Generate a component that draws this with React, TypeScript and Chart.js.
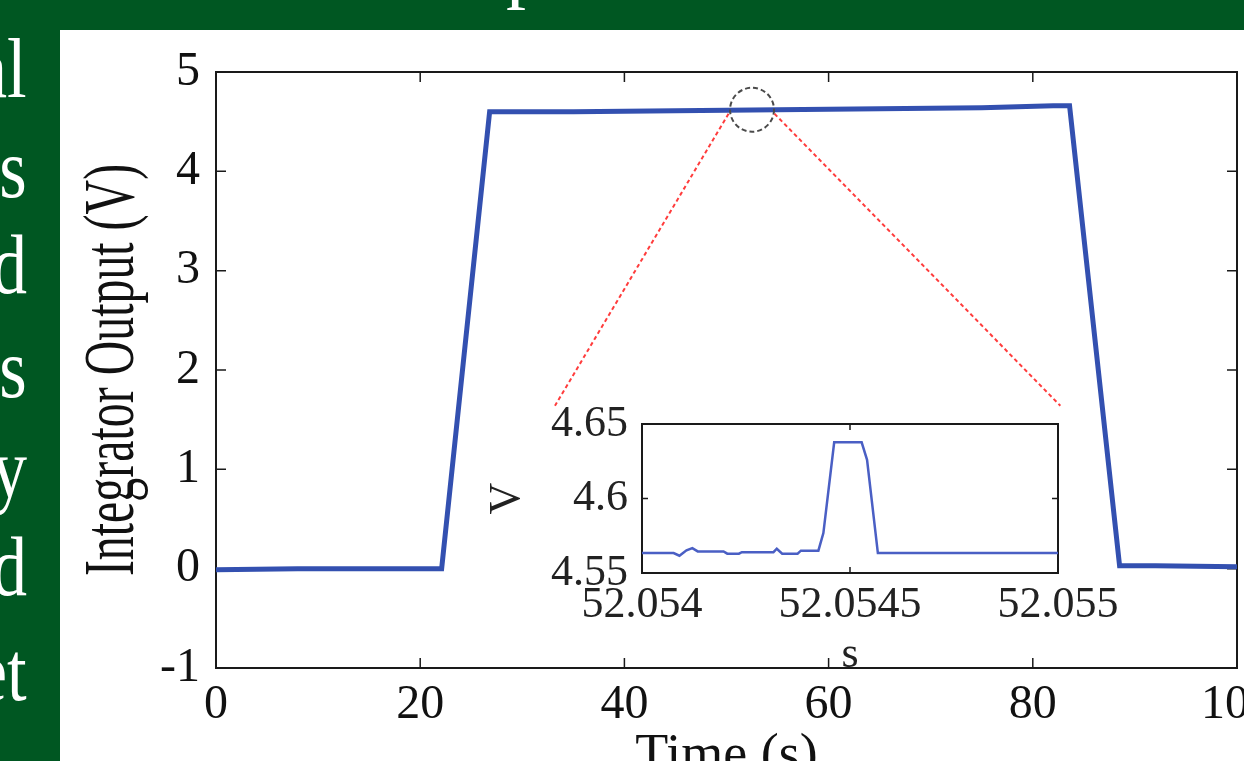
import React, { useEffect, useRef } from "react";
import { Chart, registerables } from "chart.js";

Chart.register(...registerables);

// ---------------- data ----------------
const mainTime = [0, 8, 15, 22.1, 26.8, 35, 45, 55, 65, 75, 82, 83.6, 88.5, 92, 100];
const mainVolt = [-0.01, 0.0, 0.0, 0.0, 4.6, 4.6, 4.61, 4.62, 4.63, 4.64, 4.66, 4.66, 0.03, 0.03, 0.02];
const mainXTicks = [0, 20, 40, 60, 80, 100];
const mainYTicks = [-1, 0, 1, 2, 3, 4, 5];
const mainXTitle = "Time (s)";
const mainYTitle = "Integrator Output (V)";

const insetTime = [
  52.054, 52.054076, 52.05409, 52.054107, 52.054121, 52.054134, 52.054196, 52.054205,
  52.054233, 52.05424, 52.054316, 52.054324, 52.054337, 52.054374, 52.054382, 52.054424,
  52.054436, 52.054462, 52.054528, 52.054541, 52.054567, 52.055,
];
const insetVolt = [
  4.5634, 4.5634, 4.5616, 4.5652, 4.5667, 4.5645, 4.5645, 4.563,
  4.563, 4.564, 4.564, 4.5663, 4.563, 4.563, 4.565, 4.565,
  4.5768, 4.6377, 4.6377, 4.626, 4.5634, 4.5634,
];
const insetXTicks = [52.054, 52.0545, 52.055];
const insetXLabels = ["52.054", "52.0545", "52.055"];
const insetYTicks = [4.55, 4.6, 4.65];
const insetYLabels = ["4.55", "4.6", "4.65"];
const insetXTitle = "s";
const insetYTitle = "V";

// zoom marker (data units of the main chart)
const zoomCircle = [52.5, 4.62];
const zoomLeftLine = [[50.2, 4.58], [33.2, 1.64]];
const zoomRightLine = [[54.7, 4.58], [82.7, 1.64]];

const sideWords = ["al", "s", "d", "s", "y", "d", "et"];
const sideBaselines = [97, 197, 293, 397, 497, 595, 700];

const FONT = "'Liberation Serif', 'Times New Roman', serif";
const LINE_BLUE = "#3350b0";
const INSET_BLUE = "#4a5fc4";
const GREEN = "#005722";

function framePlugin(tickLen: number, frameWidth: number) {
  return {
    id: "innerFrame",
    beforeDatasetsDraw(chart: any) {
      const { ctx, chartArea: a, scales } = chart;
      ctx.save();
      ctx.strokeStyle = "#1a1a1a";
      ctx.lineWidth = frameWidth;
      ctx.strokeRect(a.left, a.top, a.right - a.left, a.bottom - a.top);
      ctx.lineWidth = 1.5;
      ctx.beginPath();
      scales.x.ticks.forEach((t: any) => {
        const px = scales.x.getPixelForValue(t.value);
        ctx.moveTo(px, a.bottom);
        ctx.lineTo(px, a.bottom - tickLen);
        ctx.moveTo(px, a.top);
        ctx.lineTo(px, a.top + tickLen);
      });
      scales.y.ticks.forEach((t: any) => {
        const py = scales.y.getPixelForValue(t.value);
        ctx.moveTo(a.left, py);
        ctx.lineTo(a.left + tickLen, py);
        ctx.moveTo(a.right, py);
        ctx.lineTo(a.right - tickLen, py);
      });
      ctx.stroke();
      ctx.restore();
    },
  };
}

const zoomMarkPlugin = {
  id: "zoomMark",
  afterDatasetsDraw(chart: any) {
    const { ctx, scales } = chart;
    const X = (v: number) => scales.x.getPixelForValue(v);
    const Y = (v: number) => scales.y.getPixelForValue(v);
    ctx.save();
    ctx.setLineDash([5, 3]);
    ctx.strokeStyle = "#4a4a4a";
    ctx.lineWidth = 2;
    ctx.beginPath();
    ctx.arc(X(zoomCircle[0]), Y(zoomCircle[1]), 22, 0, Math.PI * 2);
    ctx.stroke();
    ctx.setLineDash([4, 3]);
    ctx.strokeStyle = "#ff3c3c";
    ctx.lineWidth = 2;
    ctx.beginPath();
    [zoomLeftLine, zoomRightLine].forEach((seg) => {
      ctx.moveTo(X(seg[0][0]), Y(seg[0][1]));
      ctx.lineTo(X(seg[1][0]), Y(seg[1][1]));
    });
    ctx.stroke();
    ctx.restore();
  },
};

const condensedYTitlePlugin = {
  id: "condensedYTitle",
  afterDraw(chart: any) {
    const { ctx, chartArea: a } = chart;
    ctx.save();
    ctx.translate(a.left - 83, (a.top + a.bottom) / 2);
    ctx.rotate(-Math.PI / 2);
    ctx.scale(0.665, 1);
    ctx.font = `72px ${FONT}`;
    ctx.fillStyle = "#111";
    ctx.textAlign = "center";
    ctx.textBaseline = "alphabetic";
    ctx.fillText(mainYTitle, 0, 0);
    ctx.restore();
  },
};

export default function App() {
  const mainRef = useRef<HTMLCanvasElement | null>(null);
  const insetRef = useRef<HTMLCanvasElement | null>(null);

  useEffect(() => {
    document.body.style.margin = "0";
    document.body.style.overflow = "hidden";
    const mainChart = new Chart(mainRef.current as HTMLCanvasElement, {
      type: "line",
      data: {
        datasets: [
          {
            data: mainTime.map((t, i) => ({ x: t, y: mainVolt[i] })),
            borderColor: LINE_BLUE,
            borderWidth: 5,
            pointRadius: 0,
            tension: 0,
            fill: false,
          },
        ],
      },
      options: {
        animation: false,
        responsive: false,
        maintainAspectRatio: false,
        events: [],
        layout: { padding: { top: 42, right: 67, bottom: 0, left: 0 } },
        plugins: { legend: { display: false }, tooltip: { enabled: false } },
        scales: {
          x: {
            type: "linear",
            min: 0,
            max: 100,
            afterBuildTicks: (s: any) => {
              s.ticks = mainXTicks.map((v) => ({ value: v }));
            },
            afterFit: (s: any) => {
              s.height = 152;
              s.paddingLeft = 0;
              s.paddingRight = 0;
            },
            grid: { display: false, drawTicks: false },
            border: { display: false },
            ticks: {
              font: { family: FONT, size: 48, lineHeight: 1 },
              color: "#111",
              padding: 13,
              maxRotation: 0,
              autoSkip: false,
            },
            title: {
              display: true,
              text: mainXTitle,
              font: { family: FONT, size: 54, lineHeight: 1 },
              color: "#111",
              padding: { top: 0, bottom: 36 },
            },
          },
          y: {
            type: "linear",
            min: -1,
            max: 5,
            afterBuildTicks: (s: any) => {
              s.ticks = mainYTicks.map((v) => ({ value: v }));
            },
            afterFit: (s: any) => {
              s.width = 156;
              s.paddingTop = 0;
              s.paddingBottom = 0;
            },
            grid: { display: false, drawTicks: false },
            border: { display: false },
            ticks: {
              font: { family: FONT, size: 48, lineHeight: 1 },
              color: "#111",
              padding: 16,
              autoSkip: false,
            },
          },
        },
      } as any,
      plugins: [framePlugin(10, 2), zoomMarkPlugin, condensedYTitlePlugin],
    });

    const insetChart = new Chart(insetRef.current as HTMLCanvasElement, {
      type: "line",
      data: {
        datasets: [
          {
            data: insetTime.map((t, i) => ({ x: t, y: insetVolt[i] })),
            borderColor: INSET_BLUE,
            borderWidth: 2.5,
            pointRadius: 0,
            tension: 0,
            fill: false,
          },
        ],
      },
      options: {
        animation: false,
        responsive: false,
        maintainAspectRatio: false,
        events: [],
        layout: { padding: { top: 29, right: 72, bottom: 0, left: 0 } },
        plugins: { legend: { display: false }, tooltip: { enabled: false } },
        scales: {
          x: {
            type: "linear",
            min: insetXTicks[0],
            max: insetXTicks[insetXTicks.length - 1],
            afterBuildTicks: (s: any) => {
              s.ticks = insetXTicks.map((v) => ({ value: v }));
            },
            afterFit: (s: any) => {
              s.height = 112;
              s.paddingLeft = 0;
              s.paddingRight = 0;
            },
            grid: { display: false, drawTicks: false },
            border: { display: false },
            ticks: {
              font: { family: FONT, size: 44, lineHeight: 1 },
              color: "#222",
              padding: 10,
              maxRotation: 0,
              autoSkip: false,
              callback: (_v: any, i: number) => insetXLabels[i],
            },
            title: {
              display: true,
              text: insetXTitle,
              font: { family: FONT, size: 44, lineHeight: 1 },
              color: "#222",
              padding: { top: 0, bottom: 8 },
            },
          },
          y: {
            type: "linear",
            min: insetYTicks[0],
            max: insetYTicks[insetYTicks.length - 1],
            afterBuildTicks: (s: any) => {
              s.ticks = insetYTicks.map((v) => ({ value: v }));
            },
            afterFit: (s: any) => {
              s.width = 162;
              s.paddingTop = 0;
              s.paddingBottom = 0;
            },
            grid: { display: false, drawTicks: false },
            border: { display: false },
            ticks: {
              font: { family: FONT, size: 44, lineHeight: 1 },
              color: "#222",
              padding: 14,
              autoSkip: false,
              callback: (_v: any, i: number) => insetYLabels[i],
            },
            title: {
              display: true,
              text: insetYTitle,
              font: { family: FONT, size: 44, lineHeight: 1 },
              color: "#222",
              padding: { top: 5, bottom: 0 },
            },
          },
        },
      } as any,
      plugins: [framePlugin(6, 2)],
    });

    return () => {
      mainChart.destroy();
      insetChart.destroy();
    };
  }, []);

  const glyphStyle: React.CSSProperties = {
    position: "absolute",
    top: -74,
    fontFamily: FONT,
    fontSize: 80,
    lineHeight: "80px",
    color: "#fff",
  };

  return (
    <div
      style={{
        position: "fixed",
        left: 0,
        top: 0,
        width: 1244,
        height: 761,
        overflow: "hidden",
        background: "#ffffff",
      }}
    >
      {/* top green bar */}
      <div
        style={{
          position: "absolute",
          left: 0,
          top: 0,
          width: 1244,
          height: 30,
          background: GREEN,
          overflow: "hidden",
        }}
      >
        <span style={{ ...glyphStyle, left: 0 }}>p</span>
        <span style={{ ...glyphStyle, left: 506 }}>p</span>
      </div>
      {/* left green panel */}
      <div
        style={{
          position: "absolute",
          left: 0,
          top: 0,
          width: 60,
          height: 761,
          background: GREEN,
          overflow: "hidden",
        }}
      >
        {sideWords.map((w, i) => (
          <div
            key={i}
            style={{
              position: "absolute",
              right: 60 - 27,
              top: sideBaselines[i] - 70,
              fontFamily: FONT,
              fontSize: 84,
              lineHeight: "84px",
              color: "#fff",
              whiteSpace: "nowrap",
              transform: "scaleX(0.84)",
              transformOrigin: "right center",
            }}
          >
            {w}
          </div>
        ))}
      </div>
      <canvas
        ref={mainRef}
        width={1244}
        height={790}
        style={{ position: "absolute", left: 60, top: 30, width: 1244, height: 790 }}
      />
      <canvas
        ref={insetRef}
        width={650}
        height={290}
        style={{ position: "absolute", left: 480, top: 395, width: 650, height: 290 }}
      />
    </div>
  );
}
